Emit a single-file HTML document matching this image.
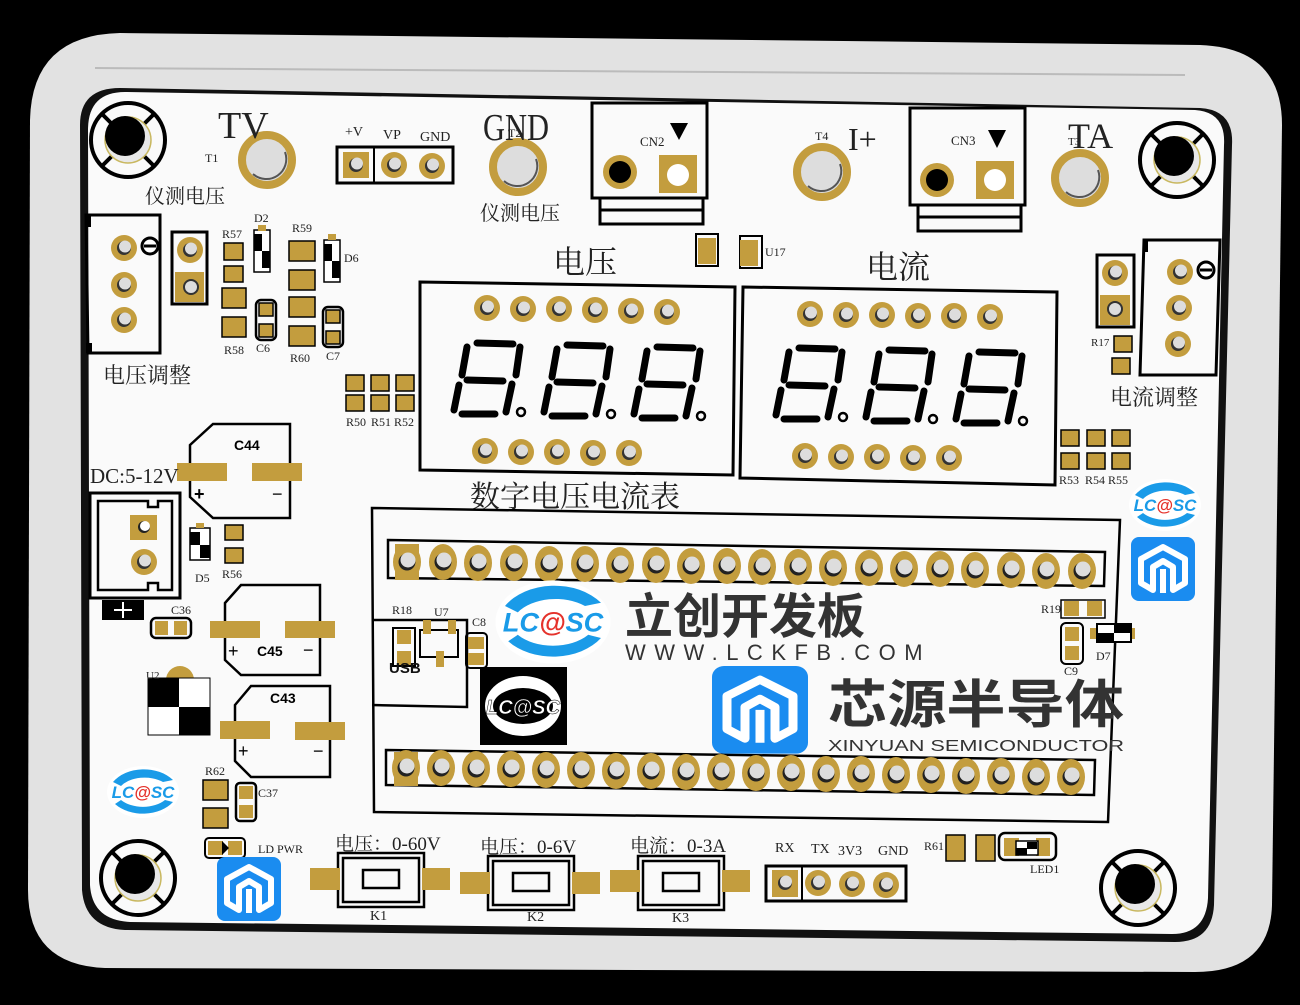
<!DOCTYPE html>
<html><head><meta charset="utf-8"><style>
html,body{margin:0;padding:0;background:#000;}
svg{display:block}
.s{font-family:"Liberation Serif","Noto Serif CJK SC",serif;fill:#222}
.c{font-family:"Liberation Sans","Noto Sans CJK SC",sans-serif}
</style></head><body>
<svg width="1300" height="1005" viewBox="0 0 1300 1005" xmlns="http://www.w3.org/2000/svg">
<defs>
<g id="th"><circle r="13" fill="#c39d3e"/><circle r="7" fill="#333"/><circle cx="1" cy="-1.5" r="6" fill="#ddd"/></g>
<g id="ov"><ellipse rx="14" ry="18" fill="#c39d3e"/><circle r="8.5" fill="#222"/><circle cx="1" cy="-2" r="7.5" fill="#ddd"/></g>
<g id="sq"><rect x="-15" y="-18" width="30" height="36" fill="#c39d3e"/><circle r="8.5" fill="#222"/><circle cx="1" cy="-2" r="7.5" fill="#ddd"/></g>
<g id="tp"><circle r="25" fill="#ddd" stroke="#c39d3e" stroke-width="8"/><path d="M-14,14 A20,20 0 0 0 18,-8" fill="none" stroke="#555" stroke-width="2"/></g>
<g id="mh"><circle r="37" fill="none" stroke="#000" stroke-width="4"/><path d="M-26,-26L-14,-14M26,-26L14,-14M-26,26L-14,14M26,26L14,14" stroke="#000" stroke-width="4"/><circle r="23" fill="#e8e8e8" stroke="#c9b860" stroke-width="1.5"/><circle cx="-3" cy="-4" r="20" fill="#000"/></g>
<g id="dg" stroke="#000" stroke-width="7" stroke-linecap="round" fill="none"><path d="M22,0L58,1M12,4L7,32M12,37L48,38M7,71L40,71M65,4L61,32M57,41L51,69M4,42L-1,67"/><circle cx="66" cy="69" r="4" stroke-width="2.5"/></g>
<g id="blue"><rect x="0" y="0" width="64" height="64" rx="8" fill="#1a8cf0"/><path d="M32,10L54,22L54,46L42,53L42,30L32,24L22,30L22,53L10,46L10,22Z" fill="none" stroke="#fff" stroke-width="6" stroke-linejoin="round"/><path d="M32,32L32,56" stroke="#fff" stroke-width="6"/></g>
<g id="lc"><ellipse cx="0" cy="0" rx="36" ry="26" fill="#fff"/><path d="M-30,-10A36,26 0 0 1 30,-12L20,-10A28,18 0 0 0 -22,-6Z" fill="#1a9be8"/><path d="M-28,12A36,26 0 0 0 30,10L22,8A28,18 0 0 1 -22,8Z" fill="#1a9be8"/><text x="0" y="6" text-anchor="middle" class="c" font-size="17" font-weight="bold" font-style="italic" fill="#1a9be8">LC<tspan fill="#e5322b">@</tspan>SC</text></g>
</defs>
<rect width="1300" height="1005" fill="#000"/>
<path d="M120,33 L1200,45 Q1282,48 1282,125 L1272,905 Q1270,972 1195,972 L105,968 Q28,965 28,890 L30,120 Q32,35 120,33Z" fill="#e2e2e2"/>
<path d="M95,68 L1185,75" stroke="#bbb" stroke-width="2"/>
<path d="M120,88 L1200,108 Q1234,110 1232,145 L1214,905 Q1212,942 1175,942 L125,930 Q85,928 82,890 L80,125 Q80,88 120,88Z" fill="#111"/>
<path d="M125,92 L1195,110 Q1226,112 1224,145 L1208,898 Q1206,934 1172,934 L130,922 Q92,920 90,885 L88,130 Q88,92 125,92Z" fill="#fafafa"/>

<use href="#mh" x="128" y="140"/><use href="#mh" x="1177" y="160"/><use href="#mh" x="138" y="878"/><use href="#mh" x="1138" y="888"/>

<use href="#tp" x="267" y="160"/><use href="#tp" x="518" y="167"/><use href="#tp" x="822" y="172"/><use href="#tp" x="1080" y="178"/>
<text x="218" y="138" class="s" font-size="38" transform="scale(1,1)">TV</text>
<text x="483" y="140" class="s" font-size="38" textLength="66" lengthAdjust="spacingAndGlyphs">GND</text>
<text x="508" y="137" class="s" font-size="12">T2</text>
<text x="848" y="150" class="s" font-size="32">I+</text>
<text x="1068" y="148" class="s" font-size="36">TA</text>
<text x="205" y="162" class="s" font-size="12">T1</text>
<text x="815" y="140" class="s" font-size="12">T4</text>
<text x="1068" y="145" class="s" font-size="11">T3</text>
<text x="145" y="203" class="s" font-size="20">仪测电压</text>
<text x="480" y="220" class="s" font-size="20">仪测电压</text>

<rect x="337" y="147" width="116" height="36" fill="none" stroke="#000" stroke-width="3"/><line x1="374" y1="147" x2="374" y2="183" stroke="#000" stroke-width="2"/>
<rect x="343" y="152" width="26" height="26" fill="#c39d3e"/><use href="#th" x="356" y="165"/><use href="#th" x="394" y="165"/><use href="#th" x="432" y="166"/>
<text x="345" y="136" class="s" font-size="14">+V</text><text x="383" y="139" class="s" font-size="14">VP</text><text x="420" y="141" class="s" font-size="14">GND</text>

<g stroke="#000" stroke-width="3" fill="none"><rect x="592" y="103" width="115" height="95"/><rect x="600" y="198" width="103" height="12"/><rect x="600" y="210" width="103" height="14"/>
<rect x="910" y="108" width="115" height="97"/><rect x="918" y="205" width="103" height="12"/><rect x="918" y="217" width="103" height="14"/></g>
<circle cx="620" cy="172" r="17" fill="#c39d3e"/><circle cx="620" cy="172" r="11" fill="#000"/>
<rect x="659" y="155" width="38" height="38" fill="#c39d3e"/><circle cx="678" cy="175" r="11" fill="#fff"/>
<circle cx="937" cy="180" r="17" fill="#c39d3e"/><circle cx="937" cy="180" r="11" fill="#000"/>
<rect x="976" y="161" width="38" height="38" fill="#c39d3e"/><circle cx="995" cy="180" r="11" fill="#fff"/>
<text x="640" y="146" class="s" font-size="13">CN2</text><path d="M670,123L688,123L679,140Z" fill="#000"/>
<text x="951" y="145" class="s" font-size="13">CN3</text><path d="M988,130L1006,130L997,148Z" fill="#000"/>

<rect x="696" y="234" width="22" height="32" fill="none" stroke="#000" stroke-width="2"/><rect x="698" y="238" width="18" height="26" fill="#c39d3e"/>
<rect x="740" y="236" width="22" height="32" fill="none" stroke="#000" stroke-width="2"/><rect x="740" y="240" width="18" height="26" fill="#c39d3e"/>
<text x="765" y="256" class="s" font-size="12">U17</text>

<!-- left pot -->
<path d="M86,215L160,215L160,353L88,353Z" fill="none" stroke="#000" stroke-width="3"/><rect x="86" y="215" width="5" height="12" fill="#000"/><rect x="86" y="343" width="6" height="10" fill="#000"/>
<use href="#th" x="124" y="248"/><use href="#th" x="124" y="285"/><use href="#th" x="124" y="320"/>
<circle cx="150" cy="246" r="8" fill="#fff" stroke="#000" stroke-width="3"/><line x1="144" y1="246" x2="156" y2="246" stroke="#000" stroke-width="3"/>
<rect x="172" y="232" width="35" height="72" fill="none" stroke="#000" stroke-width="3"/><use href="#th" x="190" y="250"/><rect x="175" y="272" width="29" height="30" fill="#c39d3e"/><circle cx="191" cy="287" r="7" fill="#ddd" stroke="#333" stroke-width="2"/>
<text x="103" y="383" class="s" font-size="22">电压调整</text>

<g fill="#c39d3e" stroke="#000" stroke-width="1.5">
<rect x="224" y="243" width="19" height="17"/><rect x="224" y="266" width="19" height="16"/>
<rect x="222" y="288" width="24" height="20"/><rect x="222" y="317" width="24" height="20"/>
<rect x="256" y="300" width="20" height="40" rx="5" fill="none" stroke-width="2.5"/><rect x="259" y="303" width="14" height="13"/><rect x="259" y="324" width="14" height="13"/>
<rect x="289" y="241" width="26" height="20"/><rect x="289" y="270" width="26" height="20"/><rect x="289" y="297" width="26" height="20"/><rect x="289" y="326" width="26" height="20"/>
<rect x="323" y="307" width="20" height="40" rx="5" fill="none" stroke-width="2.5"/><rect x="326" y="310" width="14" height="13"/><rect x="326" y="331" width="14" height="13"/>
</g>
<rect x="208" y="102" width="0" height="0"/>
<g><rect x="254" y="230" width="16" height="42" fill="#fff" stroke="#000" stroke-width="1.5"/><rect x="254" y="234" width="8" height="17" fill="#000"/><rect x="262" y="251" width="8" height="17" fill="#000"/><rect x="258" y="225" width="8" height="6" fill="#c39d3e"/></g>
<g><rect x="324" y="240" width="16" height="42" fill="#fff" stroke="#000" stroke-width="1.5"/><rect x="324" y="244" width="8" height="17" fill="#000"/><rect x="332" y="261" width="8" height="17" fill="#000"/><rect x="328" y="234" width="8" height="6" fill="#c39d3e"/></g>
<text x="222" y="238" class="s" font-size="12">R57</text><text x="254" y="222" class="s" font-size="12">D2</text><text x="292" y="232" class="s" font-size="12">R59</text><text x="344" y="262" class="s" font-size="12">D6</text>
<text x="224" y="354" class="s" font-size="12">R58</text><text x="256" y="352" class="s" font-size="12">C6</text><text x="290" y="362" class="s" font-size="12">R60</text><text x="326" y="360" class="s" font-size="12">C7</text>

<!-- displays -->
<text x="553" y="273" class="s" font-size="32">电压</text><text x="866" y="278" class="s" font-size="32">电流</text>
<path d="M420,282L735,287L733,475L420,470Z" fill="none" stroke="#000" stroke-width="3"/>
<path d="M743,287L1057,292L1055,485L740,478Z" fill="none" stroke="#000" stroke-width="3"/>
<use href="#th" x="487" y="308"/><use href="#th" x="523" y="309"/><use href="#th" x="559" y="309"/><use href="#th" x="595" y="310"/><use href="#th" x="631" y="311"/><use href="#th" x="667" y="312"/>
<use href="#th" x="485" y="451"/><use href="#th" x="521" y="452"/><use href="#th" x="557" y="452"/><use href="#th" x="593" y="453"/><use href="#th" x="629" y="453"/>
<use href="#th" x="810" y="314"/><use href="#th" x="846" y="315"/><use href="#th" x="882" y="315"/><use href="#th" x="918" y="316"/><use href="#th" x="954" y="316"/><use href="#th" x="990" y="317"/>
<use href="#th" x="805" y="456"/><use href="#th" x="841" y="457"/><use href="#th" x="877" y="457"/><use href="#th" x="913" y="458"/><use href="#th" x="949" y="458"/>
<use href="#dg" x="455" y="343"/><use href="#dg" x="545" y="345"/><use href="#dg" x="635" y="347"/>
<use href="#dg" x="777" y="348"/><use href="#dg" x="867" y="350"/><use href="#dg" x="957" y="352"/>
<text x="470" y="507" class="s" font-size="30" fill="#555">数字电压电流表</text>

<g fill="#c39d3e" stroke="#000" stroke-width="1.5">
<rect x="346" y="375" width="18" height="16"/><rect x="346" y="395" width="18" height="16"/><rect x="371" y="375" width="18" height="16"/><rect x="371" y="395" width="18" height="16"/><rect x="396" y="375" width="18" height="16"/><rect x="396" y="395" width="18" height="16"/>
<rect x="1061" y="430" width="18" height="16"/><rect x="1061" y="453" width="18" height="16"/><rect x="1087" y="430" width="18" height="16"/><rect x="1087" y="453" width="18" height="16"/><rect x="1112" y="430" width="18" height="16"/><rect x="1112" y="453" width="18" height="16"/>
<rect x="1114" y="336" width="18" height="16"/><rect x="1112" y="358" width="18" height="16"/>
</g>
<text x="346" y="426" class="s" font-size="12">R50</text><text x="371" y="426" class="s" font-size="12">R51</text><text x="394" y="426" class="s" font-size="12">R52</text>
<text x="1059" y="484" class="s" font-size="12">R53</text><text x="1085" y="484" class="s" font-size="12">R54</text><text x="1108" y="484" class="s" font-size="12">R55</text>
<text x="1091" y="346" class="s" font-size="11">R17</text>

<!-- right pot -->
<path d="M1144,240L1220,240L1216,375L1140,375Z" fill="none" stroke="#000" stroke-width="3"/><rect x="1143" y="240" width="5" height="12" fill="#000"/>
<use href="#th" x="1180" y="272"/><use href="#th" x="1179" y="308"/><use href="#th" x="1178" y="344"/>
<circle cx="1206" cy="270" r="8" fill="#fff" stroke="#000" stroke-width="3"/><line x1="1200" y1="270" x2="1212" y2="270" stroke="#000" stroke-width="3"/>
<rect x="1097" y="255" width="37" height="72" fill="none" stroke="#000" stroke-width="3"/><use href="#th" x="1115" y="273"/><rect x="1100" y="295" width="30" height="30" fill="#c39d3e"/><circle cx="1115" cy="309" r="7" fill="#ddd" stroke="#333" stroke-width="2"/>
<text x="1110" y="405" class="s" font-size="22">电流调整</text>

<use href="#lc" x="1165" y="505"/>
<use href="#blue" x="1131" y="537"/>

<!-- module -->
<path d="M372,508L1120,520L1108,822L374,812Z" fill="none" stroke="#000" stroke-width="2.5"/>
<path d="M388,540L1105,552L1104,586L388,578Z" fill="none" stroke="#000" stroke-width="2.5"/>
<path d="M386,750L1095,760L1094,795L386,785Z" fill="none" stroke="#000" stroke-width="2.5"/>
<rect x="395" y="544" width="24" height="36" fill="#c39d3e"/>
<use href="#ov" x="407" y="562"/><use href="#ov" x="443" y="562"/><use href="#ov" x="478" y="563"/><use href="#ov" x="514" y="563"/><use href="#ov" x="549" y="564"/><use href="#ov" x="585" y="564"/><use href="#ov" x="620" y="565"/><use href="#ov" x="656" y="565"/><use href="#ov" x="691" y="566"/><use href="#ov" x="727" y="566"/><use href="#ov" x="762" y="567"/><use href="#ov" x="798" y="567"/><use href="#ov" x="833" y="568"/><use href="#ov" x="869" y="568"/><use href="#ov" x="904" y="569"/><use href="#ov" x="940" y="569"/><use href="#ov" x="975" y="570"/><use href="#ov" x="1011" y="570"/><use href="#ov" x="1046" y="571"/><use href="#ov" x="1082" y="571"/>
<rect x="394" y="752" width="24" height="34" fill="#c39d3e"/>
<use href="#ov" x="406" y="768"/><use href="#ov" x="441" y="768"/><use href="#ov" x="476" y="769"/><use href="#ov" x="511" y="769"/><use href="#ov" x="546" y="770"/><use href="#ov" x="581" y="770"/><use href="#ov" x="616" y="771"/><use href="#ov" x="651" y="771"/><use href="#ov" x="686" y="772"/><use href="#ov" x="721" y="772"/><use href="#ov" x="756" y="773"/><use href="#ov" x="791" y="773"/><use href="#ov" x="826" y="774"/><use href="#ov" x="861" y="774"/><use href="#ov" x="896" y="775"/><use href="#ov" x="931" y="775"/><use href="#ov" x="966" y="776"/><use href="#ov" x="1001" y="776"/><use href="#ov" x="1036" y="777"/><use href="#ov" x="1071" y="777"/>

<g transform="translate(553,622) scale(1.6)"><use href="#lc"/></g>
<text x="625" y="633" class="c" font-size="48" font-weight="bold" fill="#333">立创开发板</text>
<text x="625" y="660" class="c" font-size="22" fill="#333" letter-spacing="8.5">WWW.LCKFB.COM</text>
<rect x="480" y="667" width="87" height="78" fill="#000"/>
<ellipse cx="523" cy="706" rx="38" ry="30" fill="#fff"/><ellipse cx="523" cy="706" rx="30" ry="18" fill="#000"/>
<text x="523" y="714" text-anchor="middle" class="c" font-size="20" font-weight="bold" font-style="italic" fill="#fff" stroke="#000" stroke-width="0.5">LC@SC</text>
<g transform="translate(712,666) scale(1.5,1.37)"><use href="#blue"/></g>
<text x="828" y="723" class="c" font-size="52" font-weight="bold" fill="#333" textLength="296" lengthAdjust="spacingAndGlyphs">芯源半导体</text>
<text x="828" y="751" class="c" font-size="16" fill="#333" textLength="296" lengthAdjust="spacingAndGlyphs">XINYUAN SEMICONDUCTOR</text>

<path d="M372,620L467,620L467,707L372,705" fill="none" stroke="#000" stroke-width="2.5"/>
<path d="M420,630L458,630L458,657L420,657Z" fill="none" stroke="#000" stroke-width="2"/>
<g fill="#c39d3e"><rect x="397" y="630" width="14" height="14"/><rect x="397" y="651" width="14" height="14"/><rect x="423" y="620" width="8" height="14"/><rect x="448" y="620" width="8" height="14"/><rect x="436" y="651" width="8" height="16"/><rect x="468" y="637" width="16" height="12"/><rect x="468" y="653" width="16" height="12"/></g>
<rect x="393" y="628" width="22" height="38" fill="none" stroke="#000" stroke-width="2"/>
<rect x="466" y="633" width="21" height="35" rx="4" fill="none" stroke="#000" stroke-width="2"/>
<text x="389" y="673" class="c" font-size="15" font-weight="bold" fill="#111">USB</text>
<text x="392" y="614" class="s" font-size="12">R18</text><text x="434" y="616" class="s" font-size="12">U7</text><text x="472" y="626" class="s" font-size="12">C8</text>

<g fill="#c39d3e"><rect x="1064" y="601" width="15" height="15"/><rect x="1087" y="601" width="15" height="15"/><rect x="1065" y="627" width="14" height="14"/><rect x="1065" y="646" width="14" height="14"/><rect x="1090" y="628" width="45" height="11"/></g>
<rect x="1061" y="600" width="44" height="18" fill="none" stroke="#000" stroke-width="1.5"/>
<rect x="1061" y="623" width="22" height="41" rx="5" fill="none" stroke="#000" stroke-width="2"/>
<rect x="1097" y="624" width="34" height="18" fill="#fff" stroke="#000" stroke-width="2"/><rect x="1114" y="625" width="16" height="8" fill="#000"/><rect x="1097" y="633" width="17" height="9" fill="#000"/>
<text x="1041" y="613" class="s" font-size="12">R19</text><text x="1064" y="675" class="s" font-size="12">C9</text><text x="1096" y="660" class="s" font-size="12">D7</text>

<!-- left power section -->
<path d="M190,445L213,424L290,424L290,518L213,518L190,497Z" fill="none" stroke="#000" stroke-width="2.5"/>
<rect x="177" y="463" width="50" height="18" fill="#c39d3e"/><rect x="252" y="463" width="50" height="18" fill="#c39d3e"/>
<text x="234" y="450" class="c" font-size="14" font-weight="bold">C44</text>
<text x="194" y="500" class="c" font-size="18" font-weight="bold">+</text><text x="272" y="500" class="c" font-size="18">−</text>
<text x="90" y="483" class="s" font-size="21">DC:5-12V</text>
<rect x="90" y="493" width="90" height="105" fill="none" stroke="#000" stroke-width="3"/>
<path d="M98,501L148,501L148,507L158,507L158,501L172,501L172,590L158,590L158,583L148,583L148,590L98,590Z" fill="none" stroke="#000" stroke-width="2.5"/>
<rect x="130" y="515" width="27" height="25" fill="#c39d3e"/><circle cx="144" cy="527" r="6" fill="#222"/><circle cx="145" cy="526" r="5" fill="#fff"/>
<use href="#th" x="144" y="562"/>
<rect x="102" y="600" width="42" height="20" fill="#000"/><path d="M114,610L132,610M123,602L123,618" stroke="#fff" stroke-width="2"/>
<rect x="190" y="528" width="20" height="32" fill="#fff" stroke="#000" stroke-width="1.5"/><rect x="190" y="532" width="10" height="13" fill="#000"/><rect x="200" y="545" width="10" height="13" fill="#000"/><rect x="196" y="523" width="8" height="5" fill="#c39d3e"/>
<g fill="#c39d3e" stroke="#000" stroke-width="1.5"><rect x="225" y="525" width="18" height="15"/><rect x="225" y="548" width="18" height="15"/></g>
<text x="195" y="582" class="s" font-size="12">D5</text><text x="222" y="578" class="s" font-size="12">R56</text>
<rect x="151" y="618" width="40" height="20" rx="5" fill="none" stroke="#000" stroke-width="2.5"/><rect x="155" y="621" width="13" height="14" fill="#c39d3e"/><rect x="174" y="621" width="13" height="14" fill="#c39d3e"/>
<text x="171" y="614" class="s" font-size="12">C36</text>
<path d="M225,603L241,585L320,585L320,675L241,675L225,660Z" fill="none" stroke="#000" stroke-width="2.5"/>
<rect x="210" y="621" width="50" height="17" fill="#c39d3e"/><rect x="285" y="621" width="50" height="17" fill="#c39d3e"/>
<text x="257" y="656" class="c" font-size="14" font-weight="bold">C45</text><text x="228" y="657" class="c" font-size="18">+</text><text x="303" y="656" class="c" font-size="18">−</text>
<path d="M235,705L251,686L330,686L330,777L251,777L235,761Z" fill="none" stroke="#000" stroke-width="2.5"/>
<rect x="220" y="721" width="50" height="18" fill="#c39d3e"/><rect x="295" y="722" width="50" height="18" fill="#c39d3e"/>
<text x="270" y="703" class="c" font-size="14" font-weight="bold">C43</text><text x="238" y="757" class="c" font-size="18">+</text><text x="313" y="757" class="c" font-size="18">−</text>
<circle cx="180" cy="680" r="14" fill="#c39d3e"/>
<rect x="148" y="678" width="62" height="57" fill="#fff" stroke="#000" stroke-width="1"/><rect x="148" y="678" width="31" height="29" fill="#000"/><rect x="179" y="707" width="31" height="28" fill="#000"/>
<text x="146" y="679" class="s" font-size="11">U2</text>
<use href="#lc" x="143" y="792"/>
<g fill="#c39d3e" stroke="#000" stroke-width="1.5"><rect x="203" y="780" width="25" height="20"/><rect x="203" y="808" width="25" height="20"/></g>
<rect x="236" y="783" width="20" height="38" rx="4" fill="none" stroke="#000" stroke-width="2.5"/><rect x="239" y="786" width="14" height="13" fill="#c39d3e"/><rect x="239" y="805" width="14" height="13" fill="#c39d3e"/>
<text x="205" y="775" class="s" font-size="12">R62</text><text x="258" y="797" class="s" font-size="12">C37</text>
<rect x="205" y="838" width="40" height="20" rx="4" fill="none" stroke="#000" stroke-width="2"/><rect x="208" y="841" width="15" height="14" fill="#c39d3e"/><rect x="228" y="841" width="14" height="14" fill="#c39d3e"/><path d="M222,841L229,848L222,855Z" fill="#000"/>
<text x="258" y="853" class="s" font-size="12">LD PWR</text>
<use href="#blue" x="217" y="857"/>

<!-- switches -->
<g fill="none" stroke="#000" stroke-width="2.5"><rect x="338" y="853" width="86" height="54"/><rect x="343" y="858" width="76" height="44"/><rect x="363" y="870" width="36" height="18"/>
<rect x="488" y="856" width="86" height="54"/><rect x="493" y="861" width="76" height="44"/><rect x="513" y="873" width="36" height="18"/>
<rect x="638" y="856" width="86" height="54"/><rect x="643" y="861" width="76" height="44"/><rect x="663" y="873" width="36" height="18"/></g>
<g fill="#c39d3e"><rect x="310" y="868" width="30" height="22"/><rect x="422" y="868" width="28" height="22"/><rect x="460" y="872" width="30" height="22"/><rect x="572" y="872" width="28" height="22"/><rect x="610" y="870" width="30" height="22"/><rect x="722" y="870" width="28" height="22"/></g>
<text x="335" y="850" class="s" font-size="19">电压：0-60V</text><text x="480" y="853" class="s" font-size="19">电压：0-6V</text><text x="630" y="852" class="s" font-size="19">电流：0-3A</text>
<text x="370" y="920" class="s" font-size="14">K1</text><text x="527" y="921" class="s" font-size="14">K2</text><text x="672" y="922" class="s" font-size="14">K3</text>

<rect x="766" y="866" width="140" height="35" fill="none" stroke="#000" stroke-width="3"/><line x1="802" y1="866" x2="802" y2="901" stroke="#000" stroke-width="2"/>
<rect x="772" y="870" width="26" height="27" fill="#c39d3e"/><use href="#th" x="785" y="883"/><use href="#th" x="818" y="883"/><use href="#th" x="852" y="884"/><use href="#th" x="886" y="885"/>
<text x="775" y="852" class="s" font-size="14">RX</text><text x="811" y="853" class="s" font-size="14">TX</text><text x="838" y="855" class="s" font-size="14">3V3</text><text x="878" y="855" class="s" font-size="14">GND</text>
<g fill="#c39d3e" stroke="#000" stroke-width="1.5"><rect x="946" y="835" width="19" height="26"/><rect x="976" y="835" width="19" height="26"/></g>
<rect x="999" y="833" width="57" height="27" rx="6" fill="none" stroke="#000" stroke-width="2.5"/><rect x="1004" y="838" width="15" height="18" fill="#c39d3e"/><rect x="1036" y="838" width="14" height="18" fill="#c39d3e"/>
<rect x="1016" y="841" width="22" height="14" fill="#fff" stroke="#000" stroke-width="1.5"/><rect x="1027" y="842" width="10" height="7" fill="#000"/><rect x="1016" y="848" width="11" height="7" fill="#000"/>
<text x="924" y="850" class="s" font-size="12">R61</text><text x="1030" y="873" class="s" font-size="12">LED1</text>
</svg>
</body></html>
